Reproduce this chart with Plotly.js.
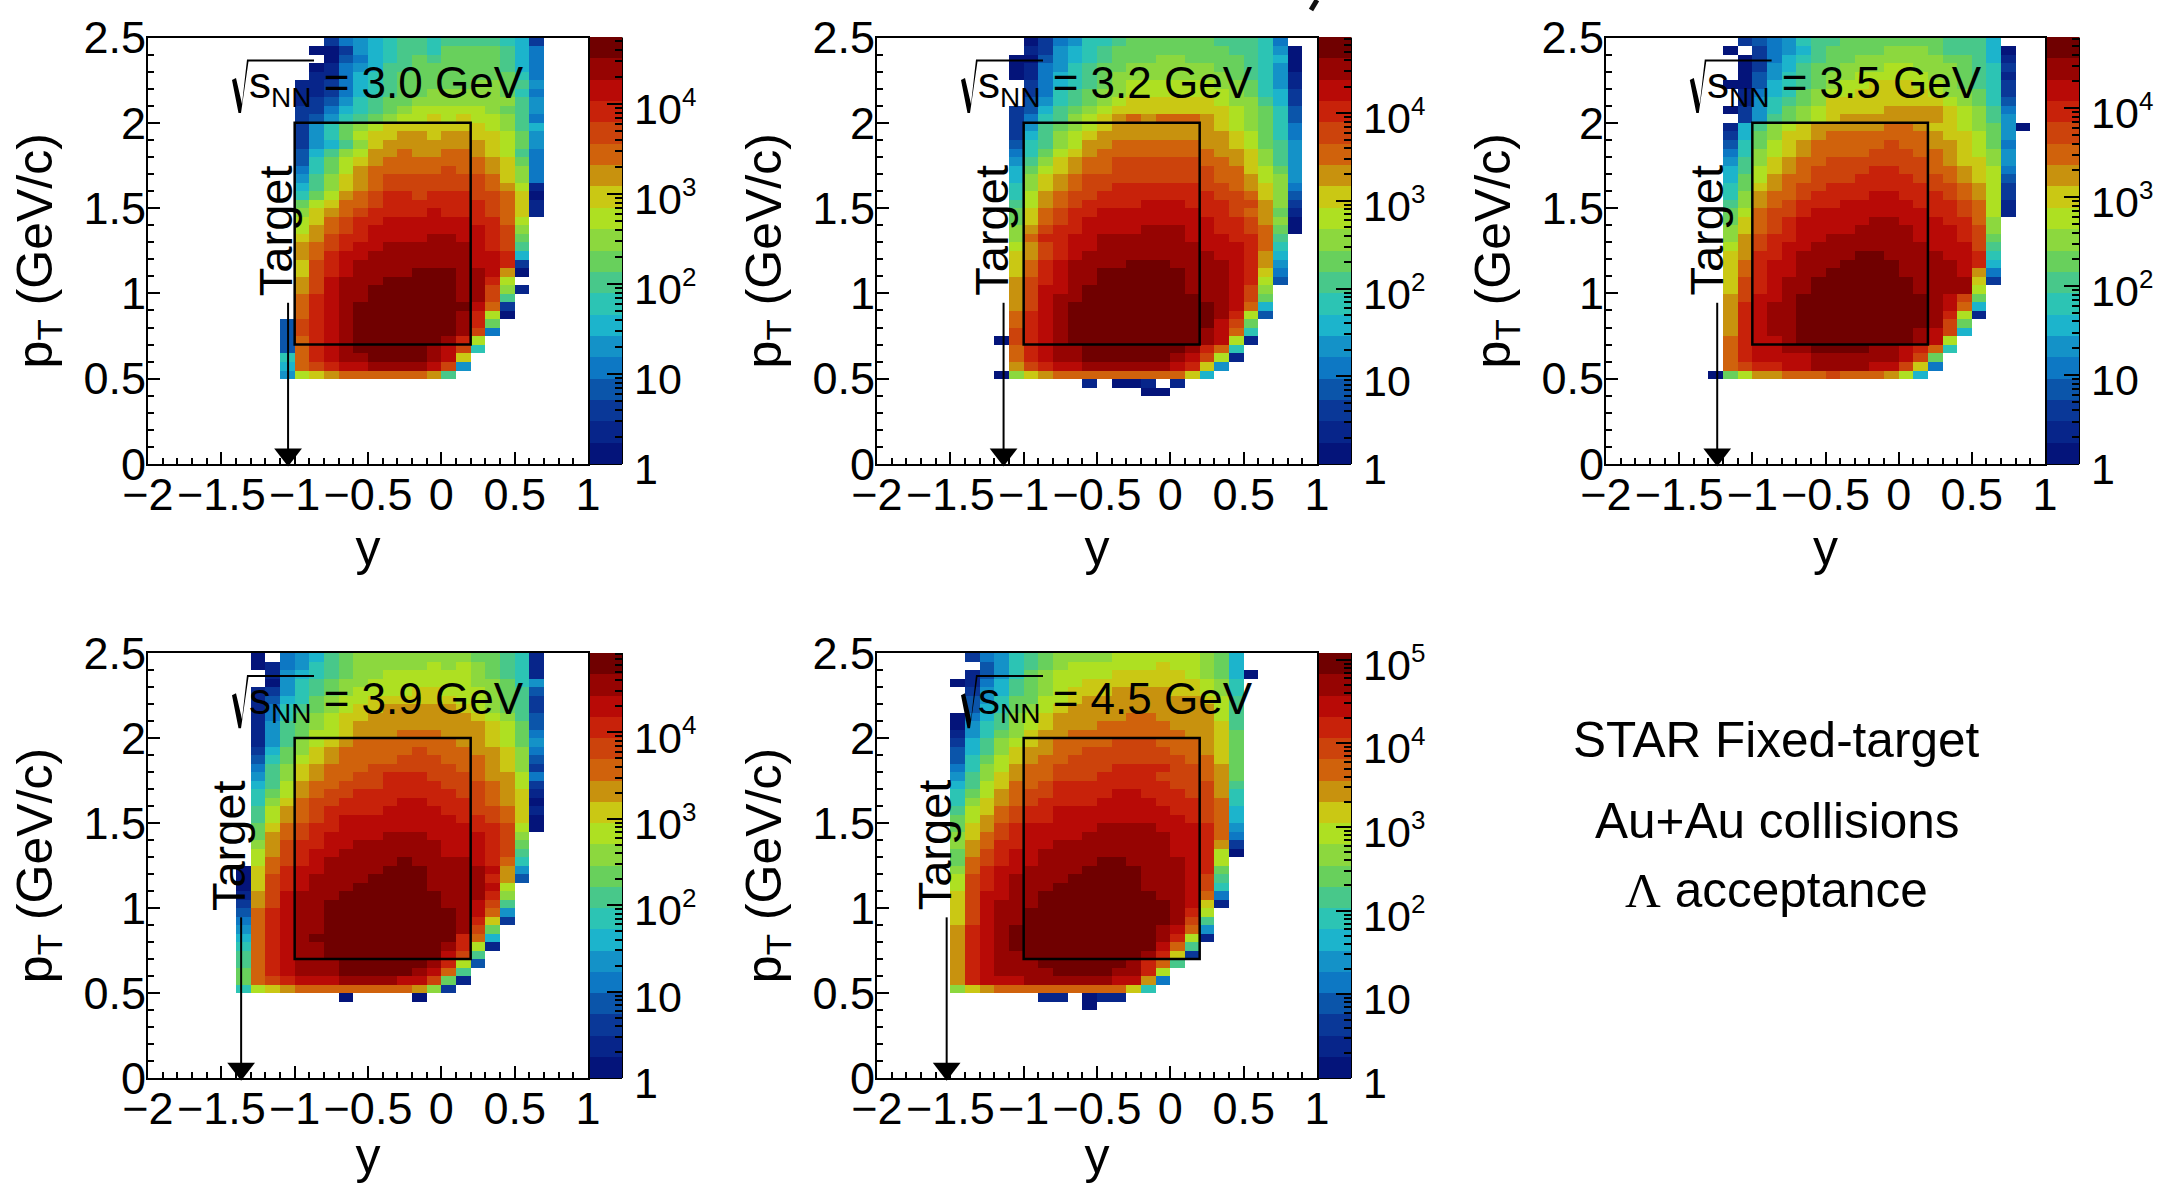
<!DOCTYPE html>
<html><head><meta charset="utf-8">
<script src="https://cdn.plot.ly/plotly-3.0.1.min.js"></script>
<style>html,body{margin:0;padding:0;background:#fff}</style></head>
<body><div id="c" style="width:2157px;height:1184px"></div>
<script>
// Each entry: "row startColumn bands". Row r spans pT r*0.05..(r+1)*0.05, column c spans y -2+c*0.1..-1.9+c*0.1.
// Bands a..t are the 20 palette steps of the colour scale, read cell by cell.
const rows30 = ["49 12 cefghiihiiiihgc","48 11 aacfghiihjjjjige","47 12 adeghijijjjjige","46 11 abefgiijjjjjjige","45 11 bbeghijjjjjjjjhe","44 10 bbceghijjjjjkkjif","43 10 bbceghijjkkkkkjhe","42 10 bcdfhijjkkkkkkkif","41 10 cceghijklllllkjif","40 10 cdfhijkllmlmllkie","39 10 cfhjklmmmmmmmlkig","38 10 cfhjlmmnnmnnmmljf","37 10 cfgikmnnnnnnnmljf","36 10 dgiklnnonnoonmlie","35 10 dhjlmnooooooonmje","34 10 ehjlnooooopoonmke","33 10 fikmnopppppppomke","32 10 gikmnoppppppponlb","31 10 hjlnopqqpqqqppoma","30 10 jlmoopqqqqqqqpomb","29 10 kmnopqqqqrqqqpomb","28 10 lmopqqrrrrrrqqol","27 10 lnopqrrrrrrrrqpk","26 10 mnpqqrrrrssrrqpj","25 10 nopqrrssssssrqpi","24 10 noqrrsssssssrrqg","23 10 mpqrssssssssrrqc","22 10 mpqrsssstttssrna","21 10 nprssstttttssql","20 10 nprssttttttsspkb","19 10 oqrssttttttsspi","18 10 oqrsttttttttroc","17 10 oqrstttttttsqla","16 9 dpqrstttttttsqj","15 9 dpqrstttttttspe","14 9 doqrsttttttsql","13 9 doqrstttttsrph","12 9 hoqrssttttsrm","11 9 gopqrrssssrpf","10 9 flmnooooooni"];
const rows32 = ["49 10 acefhhijjjjjjiiihe","48 10 bcfghijjjjjjjjiihfa","47 9 aadfghijjjkkjjjjihga","46 9 abefhijjkkkkkkjjihfa","45 9 abeghijkkkkkkkkjihfb","44 10 ceghijkllllllkkjhfb","43 10 cehijkklllllllkjhgc","42 10 dfhijklmmmmmmlkkigc","41 9 cdgijklmmmmmmmmlkjhd","40 9 cehiklmnonooonmlkjhd","39 9 cfijklmnnnnnnnmlkjhe","38 9 cgiklmnnnnnnnnnmljhe","37 9 dhiklnnoooooonnmljif","36 9 ehjlmnoooooooonnmkif","35 9 fikmnooppppppoonmkif","34 9 gjlmnoopppppppoomljf","33 9 gkmnopppppppppoonlkf","32 9 hkmnoppqqqqqqpponmke","31 9 hlnoppqqqqqqqqppomkd","30 9 ilnopqqqqrrrqqqppnkc","29 9 jmopqqrrrrrrrqqponjb","28 9 jmopqrrrrrrrrrqqpnka","27 9 knpqqrrrrsssrrqqpoja","26 9 koqqrrssssssrrrqqoi","25 9 lnpqrrsssssssrrrqoh","24 9 mnpqrsssssssssrrqng","23 9 moqrsssstttssssrqnf","22 9 moqrssttttttsssrqme","21 9 npqrssttttttsssrqld","20 9 nprrstttttttsssrpk","19 9 nprssttttttttssrpj","18 9 nprsttttttttttsrog","17 9 oqrsttttttttttsqld","16 9 oqrsttttttttttrpj","15 9 pqrstttttttttsroh","14 8 apqrstttttttttsrlb","13 9 oqrsstttttttsqoh","12 9 oqrssttttttsrplb","11 9 npqrrssssssrqmf","10 8 akmnooooooooomg","9 14 b.aab.b","8 18 aa"];
const rows35 = ["49 9 cdefhiijjjjjjjiiig","48 8 a.cefgijjjjkkkjiiiga","47 9 aceghijjkkkkkkjjigb","46 9 acfgijjkkkllkkkjihc","45 9 adfhijkklllllkkjihb","44 8 aadghijkllmmmllkjihc","43 9 beghjkllmmmmmlkkjhc","42 9 bfhijkmmmmmmmmlkjhd","41 8 acfhjklmmmmnnnnmlkie","40 9 cfijklmnnnnnnnmlkif","39 8 bgiklmnnnnnoonmmlkjfa","38 8 cgjkmmnooooooonmmljf","37 8 dhjlmnooooopoonnmlje","36 8 ehklmnoooopppoonmlkf","35 8 fikmnooppppppponmmkf","34 8 gilmnoppppqqppoonmle","33 8 gjlnoopppqqqqpponmld","32 8 hjmnoppqqqqqqqpponlc","31 8 hknoopqqqqrrqqqponlc","30 8 iknopqqqrrrrrqqqpolb","29 8 jloppqrrrrrrrrqqpolb","28 8 jmopqrrrrrssrrrqqok","27 8 kmopqrrrrssssrrrqpk","26 8 knpqqrrssssssrrrqpj","25 8 lnpqrrssssssssrrrpi","24 8 mnqqrssssttssssrrqh","23 8 moqrrsssttttssssrqg","22 8 moqrrsstttttssssrne","21 8 mpqrsstttttttssssmc","20 8 mpqrsstttttttssssl","19 8 nprrstttttttttsrpj","18 8 nqrsstttttttttsrog","17 8 nqrsstttttttttsqlb","16 8 nqrsstttttttttspj","15 8 nqrssttttttttsrpg","14 8 oqrrsttttttttsrl","13 8 oqrrssttttssrqoh","12 8 oqrrrrssssssrpj","11 8 opqqrrssssrrpme","10 7 ajlnnooopooonlg"];
const rows39 = ["49 7 a.efgijkkkkkkkkjjihb","48 7 abefhijkkkkklklkjihb","47 8 bfghijkkllllllkjihb","46 8 afhijkklllllllkkjhf","45 7 bcfhijkllllmmlllkjid","44 7 bdghjkllmmmmmmllkjic","43 7 behijklmmnnnnnmlkjic","42 7 behjklmmnnnnnnnmlkid","41 7 bfijklmnnnnnnnnnmljd","40 7 bfijllmnnnooonnnmlje","39 7 bfiklmnooooooonnmljf","38 7 cgjkmnooooopooonnmke","37 7 dhjlmnoooopppooonmkd","36 7 eikmnoooppppppoonmkc","35 7 fikmnooppqqqppponnle","34 7 gilnoopppqqqqppponlc","33 7 hjlnoppqqqqqqqpponmb","32 7 hkmoppqqqqrrqqqponma","31 7 ilnopqqqqrrrrqqppomb","30 7 ilnopqrrrrrrrrqqpoma","29 7 jmopqqrrrrrrrrrqqpla","28 7 jnopqrrrrsssrrrrqpk","27 7 knpqqrrssssssrrrqpj","26 7 lnpqrrsssssssrrrqpi","25 7 lopqrssssstssssrqoh","24 6 amoqrrsssstttssssrnf","23 6 ampqrssssttttssssqnd","22 6 ampqrssstttttssssrl","21 6 bnprssstttttttsssqk","20 6 cnprssttttttttssrpi","19 6 doqrsstttttttttsrof","18 6 eoqrsstttttttttsqmc","17 6 foqrsstttttttttspj","16 6 goqrsttttttttttqog","15 6 hoqrssttttttttsqlb","14 6 ioqrssttttttttrpi","13 6 ioqrsssttttttsqld","12 6 joqrssstttttsroi","11 6 jopqrrrssssrrpjb","10 6 hlmnoooooooonkc","9 13 a....a"];
const rows45 = ["49 6 cefhijkkkkllllllkjg","48 7 dfhijkllllllmllkjg","47 6 bdfhjkllllmmmmmlkjga","46 5 abegijkllmmmmmmmmlkh","45 6 cfgijklmmmnnnnmmlkh","44 6 dfhjjllmnnnnnnnnmli","43 6 dghjklmnnnnnnnnnnli","42 5 aegiklmnnnnnoonnnnli","41 5 afhiklmnnnooooonnnmi","40 5 bfhjkmnnoooooooonnmj","39 5 cgiklmnoooopppooonmj","38 5 dgikmnnooppppppoonmj","37 5 dhjlmnooppppppppoomj","36 5 ehklnooppppqqqqpponj","35 5 fikmnoopppqqqqppponj","34 5 gilmoopqqqqqqqqpppni","33 5 hjlnoppqqqqrrqqqppnh","32 5 hkmnopqqqqrrrrqqqpoh","31 5 ilmopqqrrrrrrrrqqpog","30 5 jlnopqqrrrrrrrrrqpog","29 5 jmnpqrrrrrssssrrrqof","28 5 kmopqrrrrssssssrrqoe","27 5 knoqqrrssssssssrrqnc","26 5 jnpqrrsssssssssrrqla","25 5 jopqrrssssttssssrql","24 5 koqrrssssttttsssrqj","23 5 lpqrsssstttttsssrpi","22 5 lpqrsssttttttsssrph","21 5 mprrssttttttttssroe","20 5 mprsssttttttttt" + "srmb","19 5 mprsstttttttttt" + "sql","18 5 mprsstttttttttt" + "spi","17 5 nqrstttttttttt" + "srof","16 5 nqrstttttttttt" + "sqlb","15 5 nqrstttttttttt" + "roi","14 5 nqrsstttttttt" + "sqmc","13 5 nqrsssttttttsqoi","12 5 nqrssssttttssql","11 5 nqrrrssssssrrne","10 5 kmnooooooooomh","9 11 bb.abb","8 14 a"];

const energies = ["3.0","3.2","3.5","3.9","4.5"];
const panelRows = [rows30,rows32,rows35,rows39,rows45];
const zTop = [4.747,4.868,4.80,4.92,5.08];          // log10 of the top of each colour bar
const targetRapidity = [-1.045,-1.137,-1.24,-1.365,-1.525];
const targetLabelX = [-1.135,-1.22,-1.315,-1.455,-1.61];
const bandColors = ["#04147a","#07258a","#0a3898","#0b55aa","#0d78c4","#1492c8","#1cb4cc","#2cc4b4","#48c88a","#68d05c","#8cd83e","#aee022","#cac814","#c8920e","#d0620c","#cc430c","#c8220a","#b80a06","#960402","#700000"];
const SUP=d=>'10<sup><span style="font-size:26px">'+d+'</span></sup>';
const logTickText = ["1","10",SUP(2),SUP(3),SUP(4),SUP(5)];
const xTicks = [-2,-1.5,-1,-0.5,0,0.5,1];
const yTicks = [0,0.5,1,1.5,2,2.5];
const textLines = ["STAR Fixed-target","Au+Au collisions","<span style=\"font-family:'Liberation Serif'\">Λ</span> acceptance"];

const W=2157,H=1184,FONT='"Liberation Sans",Arial,sans-serif';
const TICKSIZE=45,BARSIZE=43,TITLESIZE=50,NOTESIZE=44;
const PX=p=>p/W, PY=p=>1-p/H;
const frames=[[148,588,37.5,464],[877,1317,37.5,464],[1606,2045,37.5,464],[148,588,653,1078],[877,1317,653,1078]];
const barX=[590,1319,2047,590,1319], barW=32;
// outline of the radical sign, in pixels of the first panel
const radical=[[232,80],[236,78],[242,104],[247,59.5],[314,59.5],[314,61.5],[248.5,61.5],[241,113],[238.5,113]];
const radicalPath=radical.map((p,k)=>(k?'L':'M')+((p[0]-148)/440*3-2).toFixed(4)+','+((464-p[1])/426.5*2.5).toFixed(4)).join(' ')+' Z';

const scale=[];bandColors.forEach((c,i)=>{scale.push([i/20,c]);scale.push([(i+1)/20,c]);});
const clear=[[0,'rgba(0,0,0,0)'],[1,'rgba(0,0,0,0)']];
function grid(rows,top){
  const z=Array.from({length:50},()=>Array(30).fill(null));
  rows.forEach(s=>{const [r,c,b]=s.split(' ');[...b].forEach((ch,k)=>{if(ch!=='.')z[+r][+c+k]=(ch.charCodeAt(0)-97+0.5)/20*top;});});
  return z;
}
const traces=[],shapes=[],annotations=[],layout={
  width:W,height:H,margin:{l:0,r:0,t:0,b:0,autoexpand:false},paper_bgcolor:'#fff',plot_bgcolor:'#fff',
  showlegend:false,font:{family:FONT,size:TICKSIZE,color:'#000'}
};
energies.forEach((e,i)=>{
  const n=i===0?'':String(i+1), xa='x'+n, ya='y'+n, f=frames[i], top=zTop[i];
  const decades=logTickText.slice(0,Math.floor(top)+1);
  const major=decades.map((_,k)=>k), minor=[];
  for(let d=0;d<=Math.floor(top);d++)for(let m=2;m<10;m++){const v=d+Math.log10(m);if(v<top)minor.push(v);}
  const bar={x:PX(barX[i]),xanchor:'left',xpad:0,ypad:0,y:PY(f[3]),yanchor:'bottom',len:(f[3]-f[2])/H,lenmode:'fraction',thickness:barW,thicknessmode:'pixels',outlinewidth:0,tickmode:'array',ticks:'inside',tickwidth:2,tickcolor:'#000'};
  traces.push({type:'heatmap',xaxis:xa,yaxis:ya,x0:-1.95,dx:0.1,y0:0.025,dy:0.05,z:grid(panelRows[i],top),zmin:0,zmax:top,colorscale:scale,zsmooth:false,hoverongaps:false,
    colorbar:{...bar,tickvals:major,ticklen:15,showticklabels:false}});
  traces.push({type:'heatmap',xaxis:xa,yaxis:ya,x:[9],y:[9],z:[[0]],zmin:0,zmax:top,colorscale:clear,hoverinfo:'skip',
    colorbar:{...bar,tickvals:minor,ticklen:7,showticklabels:false}});
  traces.push({type:'heatmap',xaxis:xa,yaxis:ya,x:[9],y:[9],z:[[0]],zmin:0,zmax:top,colorscale:clear,hoverinfo:'skip',
    colorbar:{...bar,y:PY(f[3]+5),ticks:'outside',ticklen:4,tickcolor:'rgba(0,0,0,0)',tickvals:major,ticktext:decades,tickfont:{family:FONT,size:BARSIZE,color:'#000'}}});
  const t=targetRapidity[i];
  traces.push({type:'scatter',xaxis:xa,yaxis:ya,x:[t,t],y:[0.945,0.055],mode:'lines+markers',cliponaxis:false,line:{color:'#000',width:2},marker:{symbol:'triangle-down',size:[0.1,24],color:'#000',opacity:1,line:{width:0}},hoverinfo:'skip'});
  const axis=(tv,minorStep,title,standoff)=>({showgrid:false,zeroline:false,showline:true,mirror:true,linecolor:'#000',linewidth:2,ticks:'inside',ticklen:12,tickwidth:2,tickcolor:'#000',tickmode:'array',tickvals:tv,minor:{dtick:minorStep,ticks:'inside',ticklen:6,tickwidth:2,tickcolor:'#000',showgrid:false},tickfont:{family:FONT,size:TICKSIZE,color:'#000'},title:{text:title,font:{family:FONT,size:TITLESIZE,color:'#000'},standoff},automargin:false,fixedrange:true});
  layout['xaxis'+n]={...axis(xTicks,0.1,'y',0),domain:[PX(f[0]),PX(f[1])],range:[-2,1],anchor:ya,ticklabelstandoff:-10};
  layout['yaxis'+n]={...axis(yTicks,0.1,'p<sub>T</sub> (GeV/c)',15),domain:[PY(f[3]),PY(f[2])],range:[0,2.5],anchor:xa,ticklabelstandoff:-9};
  shapes.push({type:'rect',xref:xa,yref:ya,x0:-1,x1:0.2,y0:0.7,y1:2,line:{color:'#000',width:2.5},fillcolor:'rgba(0,0,0,0)',layer:'above'});
  shapes.push({type:'path',xref:xa,yref:ya,path:radicalPath,fillcolor:'#000',line:{width:0},layer:'above'});
  shapes.push({type:'line',xref:'paper',yref:'paper',x0:PX(barX[i]+barW),x1:PX(barX[i]+barW),y0:PY(f[3]),y1:PY(f[2]),line:{color:'#000',width:2}});
  shapes.push({type:'line',xref:'paper',yref:'paper',x0:PX(barX[i]),x1:PX(barX[i]+barW),y0:PY(f[3]),y1:PY(f[3]),line:{color:'#000',width:2}});
  const note=(text,x,y,extra)=>annotations.push({xref:xa,yref:ya,x,y,text,showarrow:false,font:{family:FONT,size:NOTESIZE,color:'#000'},...extra});
  note('s<sub><span style="font-size:28px">NN</span></sub> = '+e+' GeV',-1.324,2.217,{xanchor:'left',yanchor:'middle'});
  note('Target',targetLabelX[i],1.37,{textangle:-90,xanchor:'center',yanchor:'middle',font:{family:FONT,size:47,color:'#000'}});
});
const lineY=[739,820,890],lineX=[1776,1777,1776];
textLines.forEach((t,k)=>annotations.push({xref:'paper',yref:'paper',x:PX(lineX[k]),y:PY(lineY[k]),text:t,showarrow:false,xanchor:'center',yanchor:'middle',font:{family:FONT,size:49.5,color:'#000'}}));
shapes.push({type:'line',xref:'paper',yref:'paper',x0:PX(1317),y0:PY(0),x1:PX(1311),y1:PY(10),line:{color:'#111',width:5}});
layout.shapes=shapes;layout.annotations=annotations;
Plotly.newPlot('c',traces,layout,{staticPlot:true,displayModeBar:false});
</script></body></html>
